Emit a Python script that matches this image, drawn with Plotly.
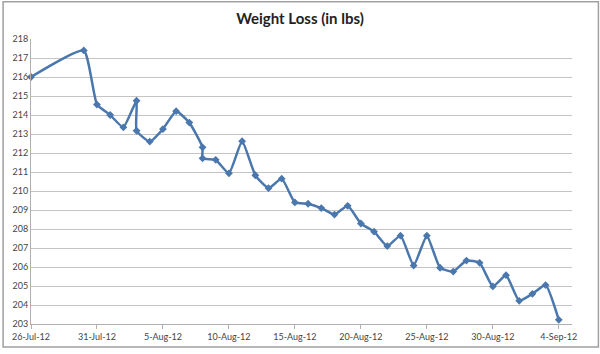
import plotly.graph_objects as go

dates = [
    "2012-07-26", "2012-07-30", "2012-07-31", "2012-08-01", "2012-08-02",
    "2012-08-03", "2012-08-03", "2012-08-04", "2012-08-05", "2012-08-06",
    "2012-08-07", "2012-08-08", "2012-08-08", "2012-08-09", "2012-08-10",
    "2012-08-11", "2012-08-12", "2012-08-13", "2012-08-14", "2012-08-15",
    "2012-08-16", "2012-08-17", "2012-08-18", "2012-08-19", "2012-08-20",
    "2012-08-21", "2012-08-22", "2012-08-23", "2012-08-24", "2012-08-25",
    "2012-08-26", "2012-08-27", "2012-08-28", "2012-08-29", "2012-08-30",
    "2012-08-31", "2012-09-01", "2012-09-02", "2012-09-03", "2012-09-04",
]
weights = [
    216.0, 217.4, 214.55, 214.0, 213.35,
    214.75, 213.17, 212.6, 213.26, 214.2,
    213.6, 212.3, 211.72, 211.64, 210.93,
    212.62, 210.83, 210.15, 210.65, 209.4,
    209.33, 209.1, 208.76, 209.22, 208.29,
    207.86, 207.1, 207.65, 206.08, 207.65,
    205.96, 205.76, 206.34, 206.22, 204.98,
    205.57, 204.22, 204.59, 205.05, 203.22,
]
tick_dates = ["2012-07-26", "2012-07-31", "2012-08-05", "2012-08-10", "2012-08-15",
              "2012-08-20", "2012-08-25", "2012-08-30", "2012-09-04"]
tick_labels = ["26-Jul-12", "31-Jul-12", "5-Aug-12", "10-Aug-12", "15-Aug-12",
               "20-Aug-12", "25-Aug-12", "30-Aug-12", "4-Sep-12"]
y_ticks = list(range(203, 219))

color = "#4a77ad"

fig = go.Figure()
fig.add_trace(go.Scatter(
    x=dates, y=weights, mode="lines+markers",
    line=dict(color=color, width=2.5, shape="spline", smoothing=0.45),
    marker=dict(symbol="diamond", size=6, color=color),
    showlegend=False, cliponaxis=False,
))

W, H = 600, 354
ml, mr, mt, mb = 29, 28, 39, 25
pw, ph = W - ml - mr, H - mt - mb

fig.update_layout(
    width=W, height=H,
    margin=dict(l=ml, r=mr, t=mt, b=mb),
    paper_bgcolor="white", plot_bgcolor="white",
    title=dict(text="<b>Weight Loss (in lbs)</b>", x=0.5, xanchor="center",
               y=1 - 19 / H, yanchor="middle",
               font=dict(family="Lato, Open Sans, sans-serif", size=15, color="#222")),
    font=dict(family="Lato, Open Sans, sans-serif", size=9, color="#444"),
    xaxis=dict(
        type="date", range=["2012-07-26", "2012-09-05"],
        tickvals=tick_dates, ticktext=tick_labels,
        showgrid=False, showline=True, linecolor="#b0b0b0", linewidth=1,
        ticks="outside", ticklen=4, tickcolor="#b0b0b0",
        tickfont=dict(size=9, color="#444"),
        zeroline=False,
    ),
    yaxis=dict(
        range=[203, 218], tickvals=y_ticks,
        showgrid=True, gridcolor="#c4c4c4", gridwidth=1,
        showline=True, linecolor="#b0b0b0", linewidth=1,
        ticks="", tickfont=dict(size=9, color="#444"),
        zeroline=False,
    ),
    shapes=[dict(
        type="rect", xref="paper", yref="paper",
        x0=(1 - ml) / pw, x1=(W - 1.5 - ml) / pw,
        y0=(ph + mt - (H - 1.5)) / ph, y1=(ph + mt - 1) / ph,
        line=dict(color="#a0a0a0", width=1.5), fillcolor="rgba(0,0,0,0)",
        layer="below",
    )],
)

fig.write_html("out.html")
